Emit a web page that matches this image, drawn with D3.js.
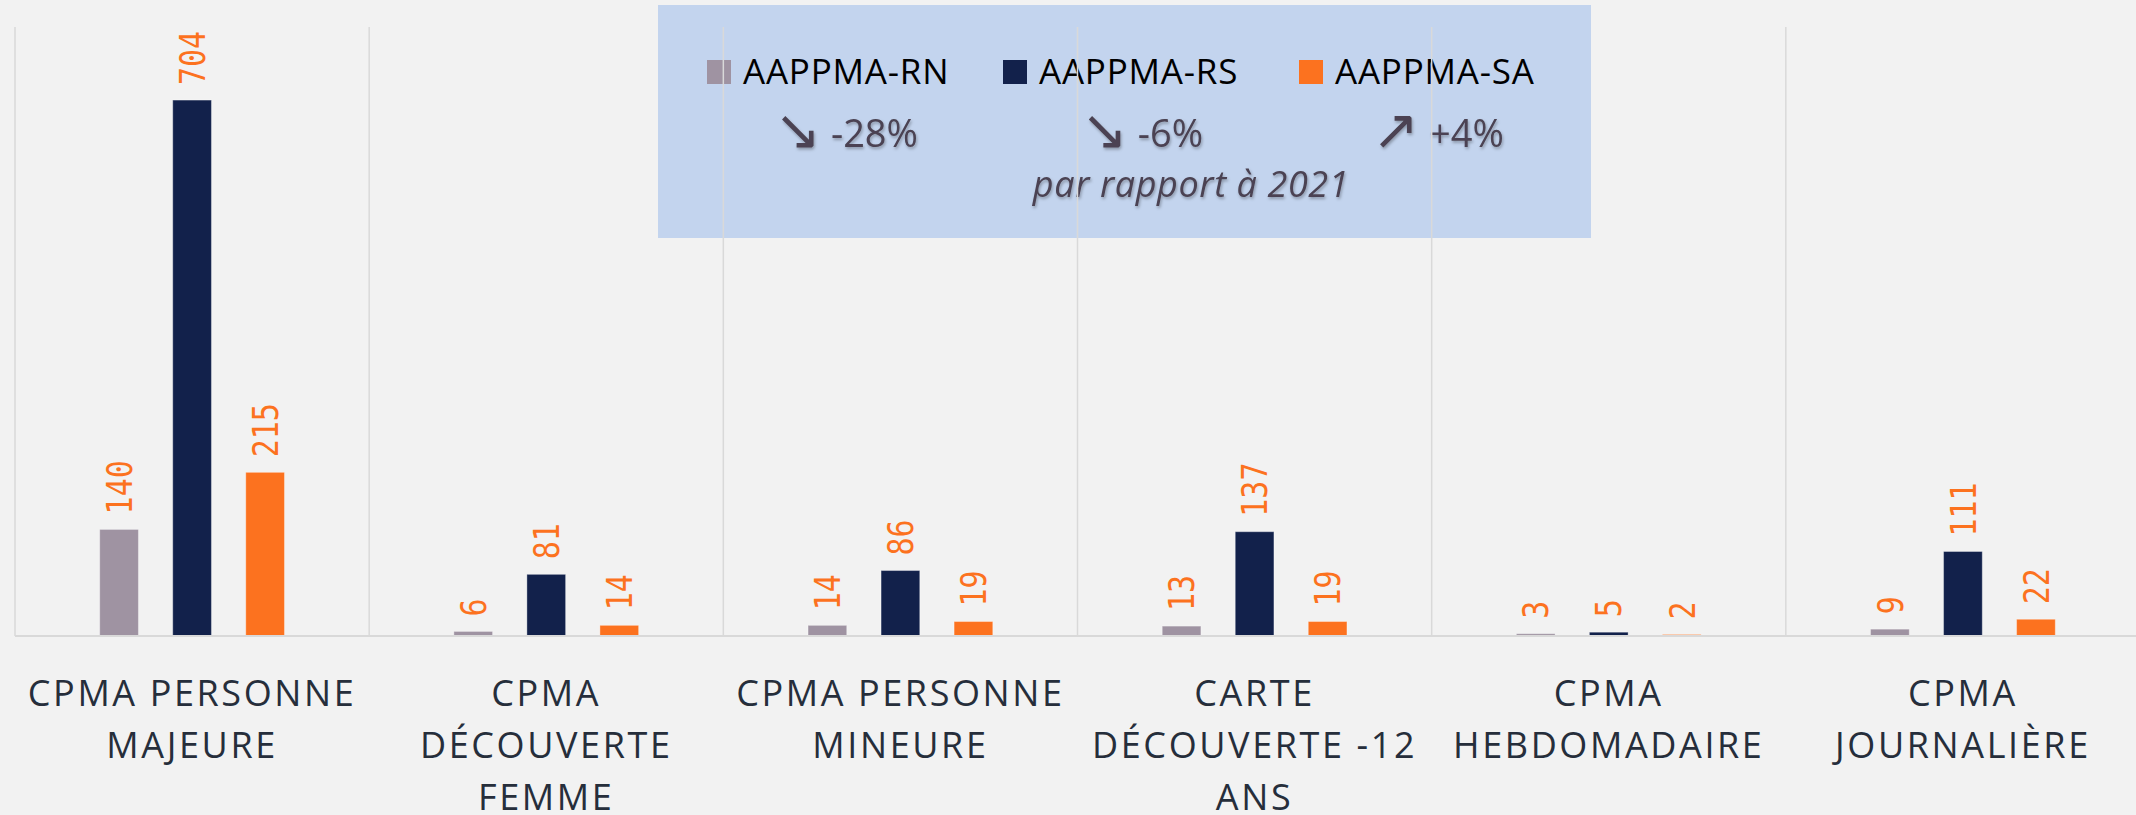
<!DOCTYPE html>
<html>
<head>
<meta charset="utf-8">
<script src="https://cdn.jsdelivr.net/npm/d3@7"></script>
<style>
  html, body { margin: 0; padding: 0; background: #f2f2f2; }
  svg { display: block; }
</style>
</head>
<body>
<svg id="chart"></svg>
<script>
// DATA
var categories = ["CPMA PERSONNE MAJEURE", "CPMA DÉCOUVERTE FEMME", "CPMA PERSONNE MINEURE",
                  "CARTE DÉCOUVERTE -12 ANS", "CPMA HEBDOMADAIRE", "CPMA JOURNALIÈRE"];
var categoryLines = [
    ["CPMA PERSONNE", "MAJEURE"],
    ["CPMA", "DÉCOUVERTE", "FEMME"],
    ["CPMA PERSONNE", "MINEURE"],
    ["CARTE", "DÉCOUVERTE -12", "ANS"],
    ["CPMA", "HEBDOMADAIRE"],
    ["CPMA", "JOURNALIÈRE"]
];
var seriesNames = ["AAPPMA-RN", "AAPPMA-RS", "AAPPMA-SA"];
var valuesRN = [140, 6, 14, 13, 3, 9];
var valuesRS = [704, 81, 86, 137, 5, 111];
var valuesSA = [215, 14, 19, 19, 2, 22];
var changeArrows = ["↘", "↘", "↗"];
var changeValues = ["-28%", "-6%", "+4%"];
var changeNote = "par rapport à 2021";
var yMax = 800;

var seriesColors = ["#9f93a2", "#12214b", "#fc721f"];
var labelColor = "#fc721f";

var svgWidth = 2136, svgHeight = 815;
var plotLeft = 15, plotRight = 2140, plotTop = 27, plotBottom = 636;

var svg = d3.select("#chart")
    .attr("width", svgWidth)
    .attr("height", svgHeight);

// shadow for the % text
var defs = svg.append("defs");
defs.append("filter")
    .attr("id", "shadow")
    .attr("x", "-20%").attr("y", "-20%")
    .attr("width", "140%").attr("height", "160%")
    .append("feDropShadow")
    .attr("dx", 1).attr("dy", 2)
    .attr("stdDeviation", 1.4)
    .attr("flood-color", "#000")
    .attr("flood-opacity", 0.3);

// rows built from the arrays
var rows = categories.map(function (c, i) {
    return { cat: c, lines: categoryLines[i], vals: [valuesRN[i], valuesRS[i], valuesSA[i]] };
});

var x0 = d3.scaleBand()
    .domain(categories)
    .range([plotLeft, plotRight])
    .paddingInner(0)
    .paddingOuter(0);

var x1 = d3.scaleBand()
    .domain(seriesNames)
    .range([0, x0.bandwidth()])
    .paddingInner(0.47)
    .paddingOuter(1.16);

var yScale = d3.scaleLinear()
    .domain([0, yMax])
    .range([plotBottom, plotTop]);

// LEGEND BOX (sits behind the grid)
var box = svg.append("g").attr("class", "legend-box");
box.append("rect")
    .attr("x", 658).attr("y", 5)
    .attr("width", 933).attr("height", 233)
    .attr("fill", "#c3d4ee");

var legendX = d3.scalePoint()
    .domain(seriesNames)
    .range([707, 1299]);

var legItem = box.selectAll("g.item")
    .data(seriesNames)
    .enter()
    .append("g")
    .attr("class", "item")
    .attr("transform", function (d) { return "translate(" + legendX(d) + ",0)"; });

legItem.append("rect")
    .attr("x", 0).attr("y", 60)
    .attr("width", 24).attr("height", 24)
    .attr("fill", function (d, i) { return seriesColors[i]; });

legItem.append("text")
    .attr("x", 36).attr("y", 84)
    .attr("font-family", "'Open Sans', sans-serif")
    .attr("font-size", 35)
    .attr("letter-spacing", 0.8)
    .attr("fill", "#000")
    .text(function (d) { return d; });

// % change under each legend entry, centred on the legend text
var pct = legItem.append("text")
    .attr("x", 36 + 103).attr("y", 147)
    .attr("text-anchor", "middle")
    .attr("font-family", "'Open Sans', sans-serif")
    .attr("font-size", 38)
    .attr("fill", "#4b4352")
    .attr("filter", "url(#shadow)");
pct.append("tspan")
    .attr("font-family", "'DejaVu Sans', sans-serif")
    .attr("font-size", 56)
    .attr("dy", 2)
    .text(function (d, i) { return changeArrows[i]; });
pct.append("tspan")
    .attr("dx", 10)
    .attr("dy", -2)
    .text(function (d, i) { return changeValues[i]; });

box.append("text")
    .attr("x", 1191).attr("y", 197)
    .attr("text-anchor", "middle")
    .attr("font-family", "'Open Sans', sans-serif")
    .attr("font-style", "italic")
    .attr("font-size", 36)
    .attr("letter-spacing", 0.6)
    .attr("fill", "#4b4352")
    .attr("filter", "url(#shadow)")
    .text(changeNote);

// GRID (vertical separators between categories)
var grid = svg.append("g").attr("class", "grid");
grid.selectAll("line")
    .data(categories.concat(["end"]))
    .enter()
    .append("line")
    .attr("x1", function (d, i) { return plotLeft + i * x0.step(); })
    .attr("x2", function (d, i) { return plotLeft + i * x0.step(); })
    .attr("y1", plotTop)
    .attr("y2", plotBottom)
    .attr("stroke", "#d9d9d9")
    .attr("stroke-width", 1.5);

// BARS
var groups = svg.selectAll("g.cat")
    .data(rows)
    .enter()
    .append("g")
    .attr("class", "cat")
    .attr("transform", function (d) { return "translate(" + x0(d.cat) + ",0)"; });

groups.selectAll("rect")
    .data(function (d) {
        return d.vals.map(function (v, i) { return { name: seriesNames[i], value: v, idx: i }; });
    })
    .enter()
    .append("rect")
    .attr("x", function (d) { return x1(d.name); })
    .attr("y", function (d) { return yScale(d.value); })
    .attr("width", x1.bandwidth())
    .attr("height", function (d) { return plotBottom - yScale(d.value); })
    .attr("fill", function (d) { return seriesColors[d.idx]; })
    .attr("stroke", "rgba(255,255,255,0.35)")
    .attr("stroke-width", 1);

// VALUE LABELS (rotated, above each bar)
groups.selectAll("text.val")
    .data(function (d) {
        return d.vals.map(function (v, i) { return { name: seriesNames[i], value: v }; });
    })
    .enter()
    .append("text")
    .attr("class", "val")
    .attr("transform", function (d) {
        var cx = x1(d.name) + x1.bandwidth() / 2;
        return "translate(" + cx + "," + (yScale(d.value) - 15) + ") rotate(-90) scale(1,1.18)";
    })
    .attr("dy", "0.36em")
    .attr("text-anchor", "start")
    .attr("font-family", "'DejaVu Sans Mono', monospace")
    .attr("font-size", 30)
    .attr("fill", labelColor)
    .text(function (d) { return d.value; });

// BASELINE
svg.append("line")
    .attr("x1", plotLeft).attr("x2", svgWidth)
    .attr("y1", plotBottom).attr("y2", plotBottom)
    .attr("stroke", "#d9d9d9")
    .attr("stroke-width", 2);

// CATEGORY LABELS
var catText = groups.append("text")
    .attr("x", x0.bandwidth() / 2)
    .attr("y", 706)
    .attr("text-anchor", "middle")
    .attr("font-family", "'Open Sans', sans-serif")
    .attr("font-size", 36)
    .attr("letter-spacing", 2.6)
    .attr("fill", "#262e3b");

catText.selectAll("tspan")
    .data(function (d) { return d.lines; })
    .enter()
    .append("tspan")
    .attr("x", x0.bandwidth() / 2)
    .attr("dy", function (d, i) { return i === 0 ? 0 : 52; })
    .text(function (d) { return d; });
</script>
</body>
</html>
